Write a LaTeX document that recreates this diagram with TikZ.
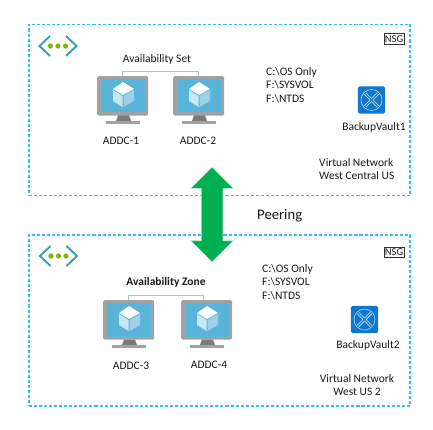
\documentclass[tikz,border=0pt]{standalone}
\usepackage{fontspec}
\setmainfont{Carlito}
\usetikzlibrary{shapes.arrows, positioning}
\definecolor{cdash}{HTML}{38BFF2}
\definecolor{cframe}{HTML}{A0A1A2}
\definecolor{cneck}{HTML}{7A7A7A}
\definecolor{cscreen}{HTML}{59B4D9}
\definecolor{cleft}{HTML}{C6E6F3}
\definecolor{cright}{HTML}{9BD0E8}
\definecolor{cvault}{HTML}{0F78CC}
\definecolor{cline}{HTML}{A4C6E4}
\definecolor{cchev}{HTML}{3999C6}
\definecolor{cdot}{HTML}{7FBA00}
\definecolor{cpeer}{HTML}{00B050}
\definecolor{ctext}{HTML}{1A1A1A}
\tikzset{
  every picture/.style={x=0.03cm, y=-0.03cm},
  every node/.style={text=ctext},
  vnet/.style={draw=cdash, line width=0.9pt, dash pattern=on 2.6pt off 1.7pt, minimum width=11.43cm, minimum height=5.13cm, inner sep=0pt},
  lab/.style={font=\fontsize{9.8}{11.6}\selectfont, inner sep=0pt, align=#1},
  lab/.default=center,
  nsg/.style={draw=black!80, line width=0.6pt, font=\fontsize{9}{10}\selectfont, minimum width=0.6cm, minimum height=0.32cm, inner sep=0pt},
  vmframe/.style={fill=cframe, rounded corners=1.2pt, minimum width=1.53cm, minimum height=1.18cm, inner sep=0pt, anchor=north west},
  vaultbox/.style={fill=cvault, rounded corners=1.5pt, minimum size=0.82cm, inner sep=0pt},
  peerarrow/.style={double arrow, draw=white!80!cpeer, fill=cpeer, line width=0.5pt, rotate=90, minimum height=2.85cm, text height=0.63cm, text width=0.1cm, double arrow head extend=0.315cm, inner sep=0pt},
  link/.style={draw=cline, line width=0.6pt},
  chev/.style={draw=cchev, line width=1.6pt},
}
\begin{document}
\begin{tikzpicture}
  \useasboundingbox (0,0) rectangle (433,429);
  % ---- the two networks
  \node[vnet] (vnet1) at (219.5,110) {};
  \node[vnet] (vnet2) at (219.5,320.5) {};
  \node[nsg] (nsg1) at (394,39) {NSG};
  \node[nsg] (nsg2) at (394,252.5) {NSG};
  % network icons
  \foreach \xx/\yy in {0/0, 0.5/210} {
    \begin{scope}[shift={(\xx,\yy)}]
      \draw[chev] (50,36) -- (39.5,46) -- (50,56);
      \draw[chev] (66,36) -- (76.5,46) -- (66,56);
      \foreach \dd in {50.5,58,65.5} \fill[cdot] (\dd,46) circle (2.6);
    \end{scope}
  }
  % ---- monitors
  \foreach \n/\xx/\yy in {1/97/76, 2/173/76, 3/103/300, 4/181/300} {
    \node[vmframe] (m\n) at (\xx,\yy) {};
    \begin{scope}[shift={(\xx,\yy)}]
      \fill[cscreen] (3.5,3) rectangle (47.5,36.5);
      \fill[cneck] (21,39.5) -- (32,39.5) -- (34,45) -- (19,45) -- cycle;
      \fill[cframe] (9,45) rectangle (43,48);
      \fill[white] (26,6) -- (37,13) -- (26,19) -- (16,13) -- cycle;
      \fill[cleft] (16,14) -- (25.5,20) -- (25.5,31) -- (16,25) -- cycle;
      \fill[cright] (37,14) -- (26.5,20) -- (26.5,31) -- (37,25) -- cycle;
    \end{scope}
  }
  \coordinate (j4) at (203,300);
  \draw[link] (m1.north) -- ++(0,-5) -| (m2.north);
  \draw[link] (m3.north) -- ++(0,-5) -| (j4);
  \node[lab] (setlab) at (157,59) {Availability Set};
  \node[lab, font=\fontsize{9.8}{11.6}\selectfont\bfseries] (zonelab) at (166,282) {Availability Zone};
  \node[lab] (a1) at (121,141) {ADDC-1};
  \node[lab] (a2) at (198,141) {ADDC-2};
  \node[lab] (a3) at (131,366) {ADDC-3};
  \node[lab] (a4) at (209,365) {ADDC-4};
  % ---- drives
  \node[lab=left, anchor=west] (disk1) at (266,85) {C:\textbackslash OS Only\\F:\textbackslash SYSVOL\\F:\textbackslash NTDS};
  \node[lab=left, anchor=west] (disk2) at (262,282) {C:\textbackslash OS Only\\F:\textbackslash SYSVOL\\F:\textbackslash NTDS};
  % ---- vaults
  \foreach \n/\xx/\yy in {1/371.5/100, 2/364.5/319.5} {
    \node[vaultbox] (v\n) at (\xx,\yy) {};
    \begin{scope}[shift={(\xx,\yy)}]
      \draw[white!70!cvault, line width=0.5pt] (0,0) circle (10.5);
      \draw[white!85!cvault, line width=2.4pt] (-6.5,-6.5) -- (6.5,6.5) (-6.5,6.5) -- (6.5,-6.5);
      \draw[cvault, line width=1.1pt] (-6.8,-6.8) -- (6.8,6.8) (-6.8,6.8) -- (6.8,-6.8);
    \end{scope}
  }
  \node[lab] (b1) at (374,127) {BackupVault1};
  \node[lab] (b2) at (368,345) {BackupVault2};
  \node[lab=left, anchor=west] (net1) at (319,169) {Virtual Network\\West Central US};
  \node[lab] (net2) at (357,385) {Virtual Network\\West US 2};
  % ---- peering
  \node[peerarrow] (peer) at (212,214.5) {};
  \node[font=\fontsize{12.5}{14}\selectfont, inner sep=0pt, anchor=west] (peerlab) at (257,216) {Peering};
\end{tikzpicture}
\end{document}
